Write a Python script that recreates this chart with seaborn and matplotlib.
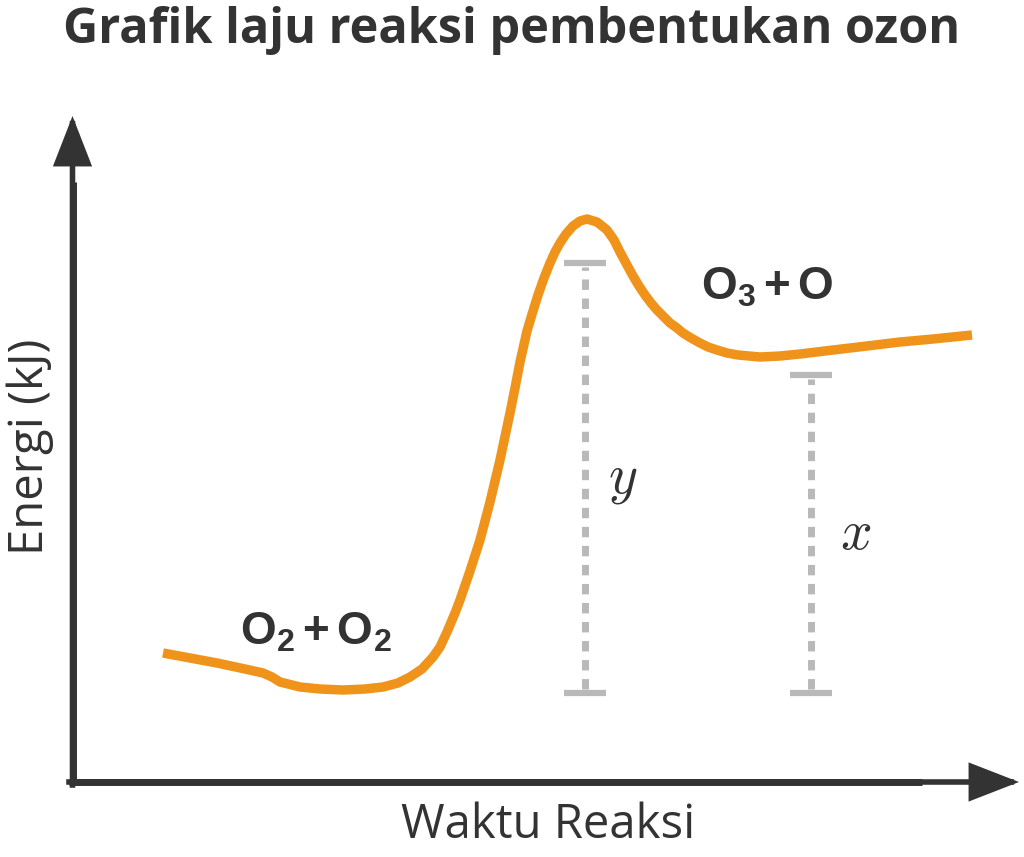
import matplotlib
matplotlib.use("Agg")
import matplotlib.pyplot as plt
import seaborn as sns
import pandas as pd

# reaction progress (time) and energy
# (units: pixels from the axis origin)
waktu = [91, 118, 145, 173, 191, 200, 208, 228, 248, 271, 293, 311, 326, 338,
         350, 361, 368, 375, 383, 388, 398, 408, 418, 428, 438, 443, 448,
         455, 461, 466, 472, 478, 483, 488, 494, 501, 508, 515,
         525, 535, 542, 548, 555, 561, 567, 573, 579, 585, 592, 598, 605, 611,
         619, 628, 636, 645, 655, 666, 677, 688,
         708, 728, 761, 795, 828, 861, 900]
energi = [129, 124, 119, 113, 109, 105, 100, 95, 93, 92, 93, 95, 99, 105,
          113, 125, 135, 150, 169, 182, 211, 242, 280, 322, 369, 394, 420,
          451, 471, 487, 504, 519, 530, 539, 548, 556, 561, 563,
          560, 552, 542, 530, 517, 506, 496, 487, 479, 472, 465, 459, 454, 449,
          444, 439, 435, 432, 429, 427, 426, 425,
          426, 428, 432, 436, 440, 443, 447]

# energy gaps: y = activation energy, x = reaction energy
gap_names = ["y", "x"]
gap_pos = [513, 739]
gap_low = [89, 89]
gap_high = [519, 407]

df = pd.DataFrame({"waktu": waktu, "energi": energi})

orange = "#f0931a"
dark = "#333333"
grey = "#b9b9b9"

sns.set_theme(style="white")
plt.rcParams["font.family"] = ["Open Sans", "DejaVu Sans"]
plt.rcParams["mathtext.fontset"] = "custom"
plt.rcParams["mathtext.bf"] = "Liberation Sans:bold"
plt.rcParams["mathtext.rm"] = "Liberation Sans:bold"
plt.rcParams["lines.scale_dashes"] = False

fig = plt.figure(figsize=(10.24, 8.57), dpi=100)
ax = fig.add_axes([0, 0, 1, 1])
ax.set_xlim(-72, 952)
ax.set_ylim(-75, 782)
ax.axis("off")

# curve
sns.lineplot(data=df, x="waktu", y="energi", sort=False, color=orange,
             lw=6.8, ax=ax, solid_capstyle="butt", solid_joinstyle="round")

# dashed gap bars with caps
for i in range(len(gap_names)):
    ax.plot([gap_pos[i], gap_pos[i]], [gap_low[i] + 4, gap_high[i] - 4],
            color=grey, lw=5, ls=(0, (7.5, 6.2)), dash_capstyle="butt")
    ax.hlines([gap_low[i], gap_high[i]], gap_pos[i] - 21, gap_pos[i] + 21,
              color=grey, lw=4.5)

ax.text(551, 304, "$y$", fontsize=40, math_fontfamily="cm", color=dark,
        ha="center", va="center")
ax.text(784, 248, "$x$", fontsize=40, math_fontfamily="cm", color=dark,
        ha="center", va="center")

# species labels (the plus sign is plain bold text between the math parts)
ax.text(244, 150, r"$\mathbf{O_2}\,$+$\,\mathbf{O_2}$", fontsize=33,
        family="Liberation Sans", fontweight="bold", color=dark,
        ha="center", va="center")
ax.text(695, 495, r"$\mathbf{O_3}\,$+$\,\mathbf{O}$", fontsize=33,
        family="Liberation Sans", fontweight="bold", color=dark,
        ha="center", va="center")

# axes as arrows
arrow = dict(arrowstyle="-|>,head_length=0.72,head_width=0.28",
             mutation_scale=40, lw=4, color=dark, shrinkA=0, shrinkB=0,
             joinstyle="miter", capstyle="projecting")
ax.annotate("", xy=(0.5, 666), xytext=(0.5, -3), arrowprops=arrow)
ax.annotate("", xy=(947, 0), xytext=(-3, 0), arrowprops=arrow)
ax.plot([0.5, 0.5], [-3, 600], color=dark, lw=5, solid_capstyle="butt")
ax.plot([-3, 850], [0, 0], color=dark, lw=5, solid_capstyle="butt")

ax.text(440, 752, "Grafik laju reaksi pembentukan ozon", fontsize=35,
        fontweight="bold", color=dark, ha="center", va="center")
ax.text(476, -43, "Waktu Reaksi", fontsize=34, color=dark,
        ha="center", va="center")
ax.text(-42, 335, "Energi (kJ)", fontsize=34, color=dark, rotation=90,
        ha="center", va="center")

fig.savefig("out.png", dpi=100)
